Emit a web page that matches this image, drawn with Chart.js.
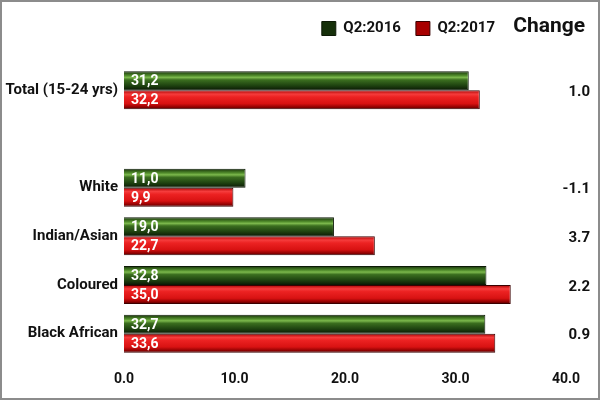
<!DOCTYPE html>
<html>
<head>
<meta charset="utf-8">
<script src="https://cdn.jsdelivr.net/npm/chart.js@4.4.1/dist/chart.umd.min.js"></script>
<style>
  html, body { margin: 0; padding: 0; background: #fff; }
  #wrap { width: 600px; height: 400px; }
</style>
</head>
<body>
<div id="wrap"><canvas id="chart"></canvas></div>
<script>
// data
const categories = ['Total (15-24 yrs)', '', 'White', 'Indian/Asian', 'Coloured', 'Black African'];
const q2016 = [31.2, null, 11.0, 19.0, 32.8, 32.7];
const q2017 = [32.2, null, 9.9, 22.7, 35.0, 33.6];
const change = [1.0, null, -1.1, 3.7, 2.2, 0.9];
const xTicks = [0, 10, 20, 30, 40];

const FONT = "'Roboto', sans-serif";
const CAT_PCT = 0.78;

const greenStops = [[0, '#16300a'], [0.22, '#4f8a2a'], [0.32, '#7cb84c'], [0.45, '#3b6e1f'], [0.75, '#1e4210'], [1, '#0a1804']];
const redStops = [[0, '#a80000'], [0.2, '#f53c3c'], [0.35, '#ec2222'], [0.7, '#d81212'], [0.9, '#8a0000'], [1, '#3a0000']];

// vertical shading per bar, worked out from the category scale
function shade(stops, flat) {
    return function (ctx) {
        const chart = ctx.chart;
        if (ctx.dataIndex === undefined || !chart.chartArea) return flat;
        const y = chart.scales.y;
        const catH = (y.bottom - y.top) / categories.length;
        const barH = catH * CAT_PCT / 2;
        const top = y.getPixelForValue(ctx.dataIndex) - catH * CAT_PCT / 2 + ctx.datasetIndex * barH;
        if (!isFinite(top)) return flat;
        const g = chart.ctx.createLinearGradient(0, top, 0, top + barH);
        stops.forEach(s => g.addColorStop(s[0], s[1]));
        return g;
    };
}

const extras = {
    id: 'extras',
    afterInit(chart) {
        // leave some room between the legend and the plot
        const fit = chart.legend.fit;
        chart.legend.fit = function () {
            fit.call(this);
            this.height += 20;
        };
    },
    beforeDraw(chart) {
        const c = chart.ctx;
        c.save();
        c.fillStyle = '#fff';
        c.fillRect(0, 0, chart.width, chart.height);
        c.restore();
    },
    afterLayout(chart) {
        // legend sits left of the "Change" header
        chart.legend.right = 510;
    },
    afterDatasetsDraw(chart) {
        const c = chart.ctx;
        const x = chart.scales.x;
        const y = chart.scales.y;
        c.save();
        c.textBaseline = 'middle';
        // values inside the bars
        c.font = 'bold 14px ' + FONT;
        c.fillStyle = '#fff';
        c.textAlign = 'left';
        chart.data.datasets.forEach((ds, di) => {
            chart.getDatasetMeta(di).data.forEach((el, i) => {
                const v = ds.data[i];
                if (v === null) return;
                c.fillText(v.toFixed(1).replace('.', ','), x.left + 7, el.y + 1);
            });
        });
        // change column
        c.fillStyle = '#111';
        c.textAlign = 'right';
        c.font = 'bold 15px ' + FONT;
        change.forEach((v, i) => {
            if (v === null) return;
            c.fillText(v.toFixed(1), 590, y.getPixelForValue(i) + 2);
        });
        c.font = 'bold 21px ' + FONT;
        c.fillText('Change', 585, 27);
        // frame
        c.strokeStyle = '#8c8c8c';
        c.lineWidth = 2;
        c.strokeRect(1, 1, chart.width - 2, chart.height - 2);
        c.restore();
    }
};

new Chart(document.getElementById('chart'), {
    type: 'bar',
    data: {
        labels: categories,
        datasets: [{
            label: 'Q2:2016',
            data: q2016,
            backgroundColor: shade(greenStops, '#2a5a14'),
            borderColor: '#0d1a06',
            borderWidth: 1,
            categoryPercentage: CAT_PCT,
            barPercentage: 1
        }, {
            label: 'Q2:2017',
            data: q2017,
            backgroundColor: shade(redStops, '#e41616'),
            borderColor: '#3a0000',
            borderWidth: 1,
            categoryPercentage: CAT_PCT,
            barPercentage: 1
        }]
    },
    options: {
        indexAxis: 'y',
        responsive: true,
        maintainAspectRatio: false,
        animation: false,
        layout: {
            padding: { top: 6, right: 34, bottom: 0, left: 0 }
        },
        plugins: {
            legend: {
                position: 'top',
                align: 'end',
                labels: {
                    boxWidth: 14,
                    boxHeight: 14,
                    padding: 15,
                    color: '#111',
                    font: { family: FONT, size: 15, weight: 'bold' }
                }
            },
            tooltip: { enabled: false }
        },
        scales: {
            x: {
                min: 0,
                max: 40,
                afterBuildTicks: scale => { scale.ticks = xTicks.map(v => ({ value: v })); },
                grid: { display: false, drawTicks: false },
                border: { display: false },
                ticks: {
                    color: '#111',
                    padding: 13,
                    font: { family: FONT, size: 14, weight: 'bold' },
                    callback: v => Number(v).toFixed(1)
                },
                afterFit: scale => { scale.height = 42; }
            },
            y: {
                grid: { display: false, drawTicks: false },
                border: { display: false },
                ticks: {
                    color: '#111',
                    padding: 6,
                    font: { family: FONT, size: 15, weight: 'bold' }
                },
                afterFit: scale => { scale.width = 124; }
            }
        }
    },
    plugins: [extras]
});
</script>
</body>
</html>
